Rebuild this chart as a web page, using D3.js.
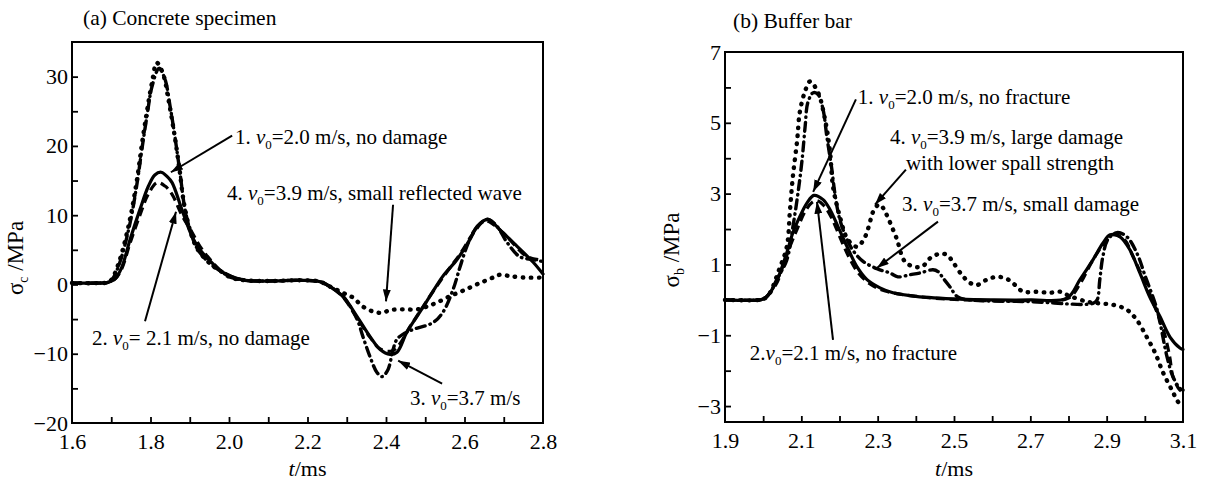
<!DOCTYPE html>
<html>
<head>
<meta charset="utf-8">
<script src="https://cdn.jsdelivr.net/npm/d3@7"></script>
<style>
  body { margin: 0; background: #fff; }
  svg { font-family: "Liberation Serif", "Times New Roman", serif; }
</style>
</head>
<body>
<svg id="chart" width="1205" height="482"></svg>
<script>
// ---- (a) concrete specimen: [t (ms), stress (MPa)] ----
const concrete1 = [[1.6,0.2],[1.671,0.2],[1.692,0.3],[1.710,0.8],[1.727,2.5],[1.748,6.5],[1.773,10.8],[1.794,14.1],[1.811,15.8],[1.827,16.2],[1.842,15.6],[1.855,14.7],[1.880,10.8],[1.906,6.9],[1.926,5.0],[1.952,3.4],[1.977,2.0],[2.005,1.2],[2.041,0.6],[2.104,0.5],[2.181,0.6],[2.232,0.4],[2.257,-0.3],[2.290,-1.7],[2.326,-4.6],[2.359,-7.5],[2.385,-9.4],[2.410,-10.1],[2.428,-9.8],[2.453,-6.9],[2.479,-4.6],[2.512,-1.7],[2.545,1.2],[2.581,3.6],[2.614,6.5],[2.632,8.4],[2.660,9.4],[2.690,7.9],[2.734,5.5],[2.775,3.2],[2.8,1.5]];
const concrete2 = [[1.6,0.2],[1.671,0.2],[1.692,0.3],[1.710,0.8],[1.727,2.3],[1.748,6.0],[1.773,10.0],[1.794,13.0],[1.817,14.7],[1.837,14.2],[1.855,13.0],[1.880,10.0],[1.906,7.5],[1.926,5.5],[1.952,3.6],[1.977,2.1],[2.005,1.2],[2.041,0.6],[2.104,0.5],[2.181,0.6],[2.232,0.4],[2.257,-0.3],[2.290,-1.8],[2.326,-4.8],[2.359,-7.6],[2.385,-9.3],[2.415,-9.6],[2.435,-8.6],[2.460,-6.2],[2.490,-3.6],[2.520,-1.0],[2.555,1.8],[2.590,4.5],[2.625,7.6],[2.652,9.2],[2.675,8.6],[2.708,6.9],[2.760,4.0],[2.8,3.5]];
const concrete3 = [[1.6,0.2],[1.671,0.2],[1.692,0.3],[1.702,0.7],[1.722,3.2],[1.748,8.9],[1.766,14.7],[1.778,19.5],[1.791,24.3],[1.804,28.6],[1.822,31.2],[1.837,29.6],[1.850,25.7],[1.862,21.4],[1.875,16.2],[1.888,10.8],[1.906,6.9],[1.921,5.0],[1.952,3.0],[1.977,2.0],[2.005,1.0],[2.041,0.6],[2.104,0.5],[2.181,0.6],[2.232,0.4],[2.257,-0.3],[2.290,-1.7],[2.326,-5.0],[2.341,-7.5],[2.359,-10.4],[2.377,-12.7],[2.390,-13.3],[2.405,-12.3],[2.418,-9.4],[2.428,-7.9],[2.443,-7.2],[2.469,-6.5],[2.520,-5.5],[2.545,-4.0],[2.571,-0.7],[2.589,2.6],[2.606,5.5],[2.622,7.5],[2.645,9.0],[2.660,9.4],[2.683,8.4],[2.708,6.1],[2.741,4.0],[2.775,3.6],[2.8,3.3]];
const concrete4 = [[1.6,0.2],[1.671,0.2],[1.692,0.3],[1.702,0.8],[1.722,3.6],[1.748,9.5],[1.766,15.3],[1.778,20.2],[1.791,25.0],[1.804,29.2],[1.816,32.0],[1.832,30.4],[1.846,26.6],[1.860,22.0],[1.873,17.0],[1.886,11.5],[1.904,7.2],[1.921,5.0],[1.952,3.0],[1.977,2.0],[2.005,1.0],[2.041,0.6],[2.104,0.5],[2.181,0.6],[2.232,0.4],[2.257,-0.3],[2.290,-1.2],[2.316,-1.9],[2.341,-3.2],[2.367,-3.9],[2.390,-4.1],[2.410,-3.7],[2.443,-3.6],[2.479,-3.6],[2.504,-3.2],[2.530,-2.6],[2.563,-1.7],[2.596,-0.9],[2.639,0.2],[2.673,1.0],[2.690,1.4],[2.716,1.2],[2.749,1.0],[2.8,1.0]];

// ---- (b) buffer bar: [t (ms), stress (MPa)] ----
const buffer1 = [[1.9,0],[1.992,0],[2.005,0.05],[2.018,0.2],[2.037,0.57],[2.044,0.76],[2.062,1.33],[2.078,1.9],[2.096,2.35],[2.115,2.74],[2.133,2.95],[2.157,2.83],[2.175,2.55],[2.196,2.07],[2.220,1.5],[2.246,0.93],[2.272,0.57],[2.306,0.34],[2.340,0.2],[2.40,0.1],[2.516,0.02],[2.6,0],[2.7,0],[2.796,0.05],[2.830,0.57],[2.864,1.13],[2.890,1.6],[2.909,1.84],[2.935,1.78],[2.961,1.41],[2.987,0.76],[3.013,0.08],[3.040,-0.48],[3.066,-1.05],[3.092,-1.36],[3.1,-1.4]];
const buffer2 = [[1.9,0],[1.992,0],[2.005,0.05],[2.018,0.2],[2.037,0.5],[2.050,0.9],[2.070,1.5],[2.089,2.0],[2.110,2.5],[2.128,2.75],[2.141,2.8],[2.160,2.65],[2.180,2.3],[2.200,1.8],[2.225,1.2],[2.250,0.75],[2.280,0.45],[2.32,0.25],[2.40,0.1],[2.52,0],[2.7,-0.02],[2.80,0.05],[2.83,0.45],[2.86,1.05],[2.89,1.55],[2.917,1.84],[2.945,1.72],[2.97,1.2],[3.0,0.5],[3.03,-0.3],[3.05,-0.9],[3.065,-1.6],[3.074,-2.18],[3.092,-2.55],[3.1,-2.6]];
const buffer3 = [[1.9,0],[1.992,0],[2.005,0.05],[2.018,0.2],[2.037,0.6],[2.062,1.13],[2.078,2.07],[2.091,3.0],[2.102,3.96],[2.110,4.9],[2.117,5.57],[2.131,5.85],[2.144,5.8],[2.157,5.37],[2.167,4.6],[2.180,3.68],[2.188,3.0],[2.201,2.26],[2.220,1.7],[2.235,1.4],[2.260,1.1],[2.298,0.88],[2.332,0.76],[2.353,0.65],[2.385,0.71],[2.411,0.76],[2.445,0.85],[2.458,0.8],[2.471,0.62],[2.489,0.37],[2.510,0.08],[2.542,0],[2.7,-0.05],[2.864,-0.1],[2.875,0],[2.882,0.57],[2.890,1.22],[2.903,1.7],[2.927,1.9],[2.953,1.78],[2.98,1.3],[3.0,0.7],[3.03,-0.2],[3.04,-0.65],[3.058,-1.6],[3.074,-2.18],[3.092,-2.5],[3.1,-2.55]];
const buffer4 = [[1.9,0],[1.992,0],[2.005,0.05],[2.018,0.2],[2.040,0.8],[2.062,1.5],[2.070,2.5],[2.078,3.5],[2.089,4.5],[2.096,5.3],[2.110,5.9],[2.123,6.17],[2.144,5.85],[2.162,5.1],[2.175,4.2],[2.183,3.2],[2.201,2.35],[2.222,1.7],[2.246,1.5],[2.267,1.78],[2.293,2.6],[2.306,2.69],[2.314,2.6],[2.348,1.78],[2.374,1.05],[2.414,0.93],[2.440,1.2],[2.463,1.3],[2.482,1.27],[2.497,1.07],[2.521,0.7],[2.542,0.48],[2.560,0.42],[2.586,0.57],[2.613,0.65],[2.639,0.59],[2.660,0.42],[2.681,0.23],[2.717,0.23],[2.751,0.2],[2.778,0.23],[2.796,0.14],[2.848,-0.05],[2.882,-0.1],[2.917,-0.14],[2.953,-0.28],[2.979,-0.57],[3.005,-1.05],[3.027,-1.5],[3.048,-2.06],[3.071,-2.55],[3.084,-2.83],[3.092,-2.95]];

// tick labels
const concreteXLabels = [1.6, 1.8, 2.0, 2.2, 2.4, 2.6, 2.8];
const concreteYLabels = [30, 20, 10, 0, -10, -20];
const bufferXLabels = [1.9, 2.1, 2.3, 2.5, 2.7, 2.9, 3.1];
const bufferYLabels = [7, 5, 3, 1, -1, -3];

// line styles: 1 solid, 2 dashed, 3 dash-dot, 4 dotted
const lineStyles = [
  {dash: null, width: 3.2, cap: 'round'},
  {dash: '9 5', width: 3.2, cap: 'butt'},
  {dash: '9 5 0.5 5', width: 3.4, cap: 'round'},
  {dash: '0.5 7.5', width: 4.4, cap: 'round'}
];

class StressPanel {
  constructor(_config, _series, _notes) {
    this.config = _config;
    this.series = _series;
    this.notes = _notes;
    this.initVis();
  }

  initVis() {
    let vis = this;
    const c = vis.config;
    vis.svg = d3.select(c.parentElement);

    vis.xScale = d3.scaleLinear().domain(c.xDomain).range([c.left, c.right]);
    vis.yScale = d3.scaleLinear().domain(c.yDomain).range([c.bottom, c.top]);

    vis.chart = vis.svg.append('g');

    // d3 axes put a sans-serif font on their group, drop it
    const plain = g => g.attr('font-family', null).attr('font-size', null);

    // inward tick marks
    vis.chart.append('g')
        .attr('transform', `translate(0,${c.bottom})`)
        .call(d3.axisBottom(vis.xScale).tickValues(c.xMarks).tickSizeInner(-6).tickSizeOuter(0).tickFormat(''))
        .call(g => g.select('.domain').remove())
        .call(g => g.selectAll('line').attr('stroke-width', 1.8));
    vis.chart.append('g')
        .attr('transform', `translate(${c.left},0)`)
        .call(d3.axisLeft(vis.yScale).tickValues(c.yMarks).tickSizeInner(-6).tickSizeOuter(0).tickFormat(''))
        .call(g => g.select('.domain').remove())
        .call(g => g.selectAll('line').attr('stroke-width', 1.8));

    // tick labels
    vis.chart.append('g')
        .attr('transform', `translate(0,${c.bottom})`)
        .call(d3.axisBottom(vis.xScale).tickValues(c.xLabels).tickSize(0).tickPadding(10).tickFormat(d3.format('.1f')))
        .call(plain)
        .call(g => g.select('.domain').remove())
        .call(g => g.selectAll('text').attr('font-size', 22).attr('fill', '#000'));
    vis.chart.append('g')
        .attr('transform', `translate(${c.left},0)`)
        .call(d3.axisLeft(vis.yScale).tickValues(c.yLabels).tickSize(0).tickPadding(4).tickFormat(d3.format('d')))
        .call(plain)
        .call(g => g.select('.domain').remove())
        .call(g => g.selectAll('text').attr('font-size', 22).attr('fill', '#000'));

    // curves
    const line = d3.line()
        .x(d => vis.xScale(d[0]))
        .y(d => vis.yScale(d[1]))
        .curve(d3.curveCatmullRom.alpha(0.5));

    vis.chart.append('g')
      .selectAll('path')
      .data(vis.series)
      .join('path')
        .attr('d', d => line(d))
        .attr('fill', 'none')
        .attr('stroke', '#000')
        .attr('stroke-width', (d, i) => lineStyles[i].width)
        .attr('stroke-dasharray', (d, i) => lineStyles[i].dash)
        .attr('stroke-linecap', (d, i) => lineStyles[i].cap)
        .attr('stroke-linejoin', 'round');

    // frame
    vis.chart.append('rect')
        .attr('x', c.left)
        .attr('y', c.top)
        .attr('width', c.right - c.left)
        .attr('height', c.bottom - c.top)
        .attr('fill', 'none')
        .attr('stroke', '#000')
        .attr('stroke-width', 2);

    // panel title
    vis.svg.append('text')
        .attr('x', c.titleX)
        .attr('y', c.titleY)
        .attr('dy', '0.35em')
        .attr('font-size', 21.5)
        .text(c.title);

    // x label  t/ms
    const xl = vis.svg.append('text')
        .attr('x', (c.left + c.right) / 2)
        .attr('y', 468)
        .attr('dy', '0.35em')
        .attr('text-anchor', 'middle')
        .attr('font-size', 22);
    xl.append('tspan').attr('font-style', 'italic').text('t');
    xl.append('tspan').text('/ms');

    // y label  sigma/MPa
    const yl = vis.svg.append('text')
        .attr('transform', `translate(${c.yLabelX},${c.yLabelY}) rotate(-90)`)
        .attr('text-anchor', 'middle')
        .attr('dy', '0.35em')
        .attr('font-size', 23);
    yl.append('tspan').text('σ');
    yl.append('tspan').attr('font-size', 14).attr('dy', 5).text(c.ySub);
    yl.append('tspan').attr('dy', -5).text(' /MPa');

    // arrows + notes
    vis.svg.append('defs').append('marker')
        .attr('id', 'head' + c.id)
        .attr('viewBox', '0 0 12 8')
        .attr('refX', 12)
        .attr('refY', 4)
        .attr('markerWidth', 12)
        .attr('markerHeight', 8)
        .attr('markerUnits', 'userSpaceOnUse')
        .attr('orient', 'auto')
      .append('path')
        .attr('d', 'M0,0 L12,4 L0,8 Z')
        .attr('fill', '#000');

    vis.notes.forEach(n => {
      if (n.arrow) {
        vis.svg.append('line')
            .attr('x1', vis.xScale(n.arrow[0][0]))
            .attr('y1', vis.yScale(n.arrow[0][1]))
            .attr('x2', vis.xScale(n.arrow[1][0]))
            .attr('y2', vis.yScale(n.arrow[1][1]))
            .attr('stroke', '#000')
            .attr('stroke-width', 2)
            .attr('marker-end', `url(#head${c.id})`);
      }
      const t = vis.svg.append('text')
          .attr('x', vis.xScale(n.at[0]))
          .attr('y', vis.yScale(n.at[1]))
          .attr('dy', '0.35em')
          .attr('font-size', 21);
      if (n.pre !== undefined) {
        t.append('tspan').text(n.pre);
        t.append('tspan').attr('font-style', 'italic').text('v');
        t.append('tspan').attr('font-size', 13).attr('dy', 5).text('0');
        t.append('tspan').attr('dy', -5).text(n.text);
      } else {
        t.append('tspan').text(n.text);
      }
    });
  }
}

new StressPanel({
  id: 'a',
  parentElement: '#chart',
  xDomain: [1.6, 2.8], yDomain: [-20, 35],
  left: 72, right: 543, top: 42, bottom: 423,
  xMarks: d3.range(1.7, 2.75, 0.1), yMarks: d3.range(-15, 35, 5),
  xLabels: concreteXLabels, yLabels: concreteYLabels,
  title: '(a) Concrete specimen', titleX: 83, titleY: 17,
  ySub: 'c', yLabelX: 15, yLabelY: 258
}, [concrete1, concrete2, concrete3, concrete4], [
  {pre: '1. ', text: '=2.0 m/s, no damage', at: [2.015, 21.4], arrow: [[2.008, 21.5], [1.852, 16.2]]},
  {pre: '4. ', text: '=3.9 m/s, small reflected wave', at: [1.995, 13.3], arrow: [[2.418, 11.5], [2.400, -2.45]]},
  {pre: '2. ', text: '= 2.1 m/s, no damage', at: [1.651, -7.65], arrow: [[1.786, -5.3], [1.865, 10.5]]},
  {pre: '3. ', text: '=3.7 m/s', at: [2.461, -16.3], arrow: [[2.543, -14.3], [2.431, -11.0]]}
]);

new StressPanel({
  id: 'b',
  parentElement: '#chart',
  xDomain: [1.9, 3.1], yDomain: [-3.45, 7],
  left: 725, right: 1183, top: 52, bottom: 422,
  xMarks: d3.range(2.0, 3.05, 0.1), yMarks: d3.range(-3, 7, 1),
  xLabels: bufferXLabels, yLabels: bufferYLabels,
  title: '(b) Buffer bar', titleX: 733, titleY: 20,
  ySub: 'b', yLabelX: 671, yLabelY: 250
}, [buffer1, buffer2, buffer3, buffer4], [
  {pre: '1. ', text: '=2.0 m/s, no fracture', at: [2.248, 5.74], arrow: [[2.243, 5.66], [2.131, 3.05]]},
  {pre: '4. ', text: '=3.9 m/s, large damage', at: [2.332, 4.61]},
  {text: 'with lower spall strength', at: [2.374, 3.87], arrow: [[2.374, 3.68], [2.293, 2.69]]},
  {pre: '3. ', text: '=3.7 m/s, small damage', at: [2.364, 2.71], arrow: [[2.458, 2.21], [2.298, 0.9]]},
  {pre: '2.', text: '=2.1 m/s, no fracture', at: [1.965, -1.5], arrow: [[2.183, -1.13], [2.141, 2.77]]}
]);
</script>
</body>
</html>
